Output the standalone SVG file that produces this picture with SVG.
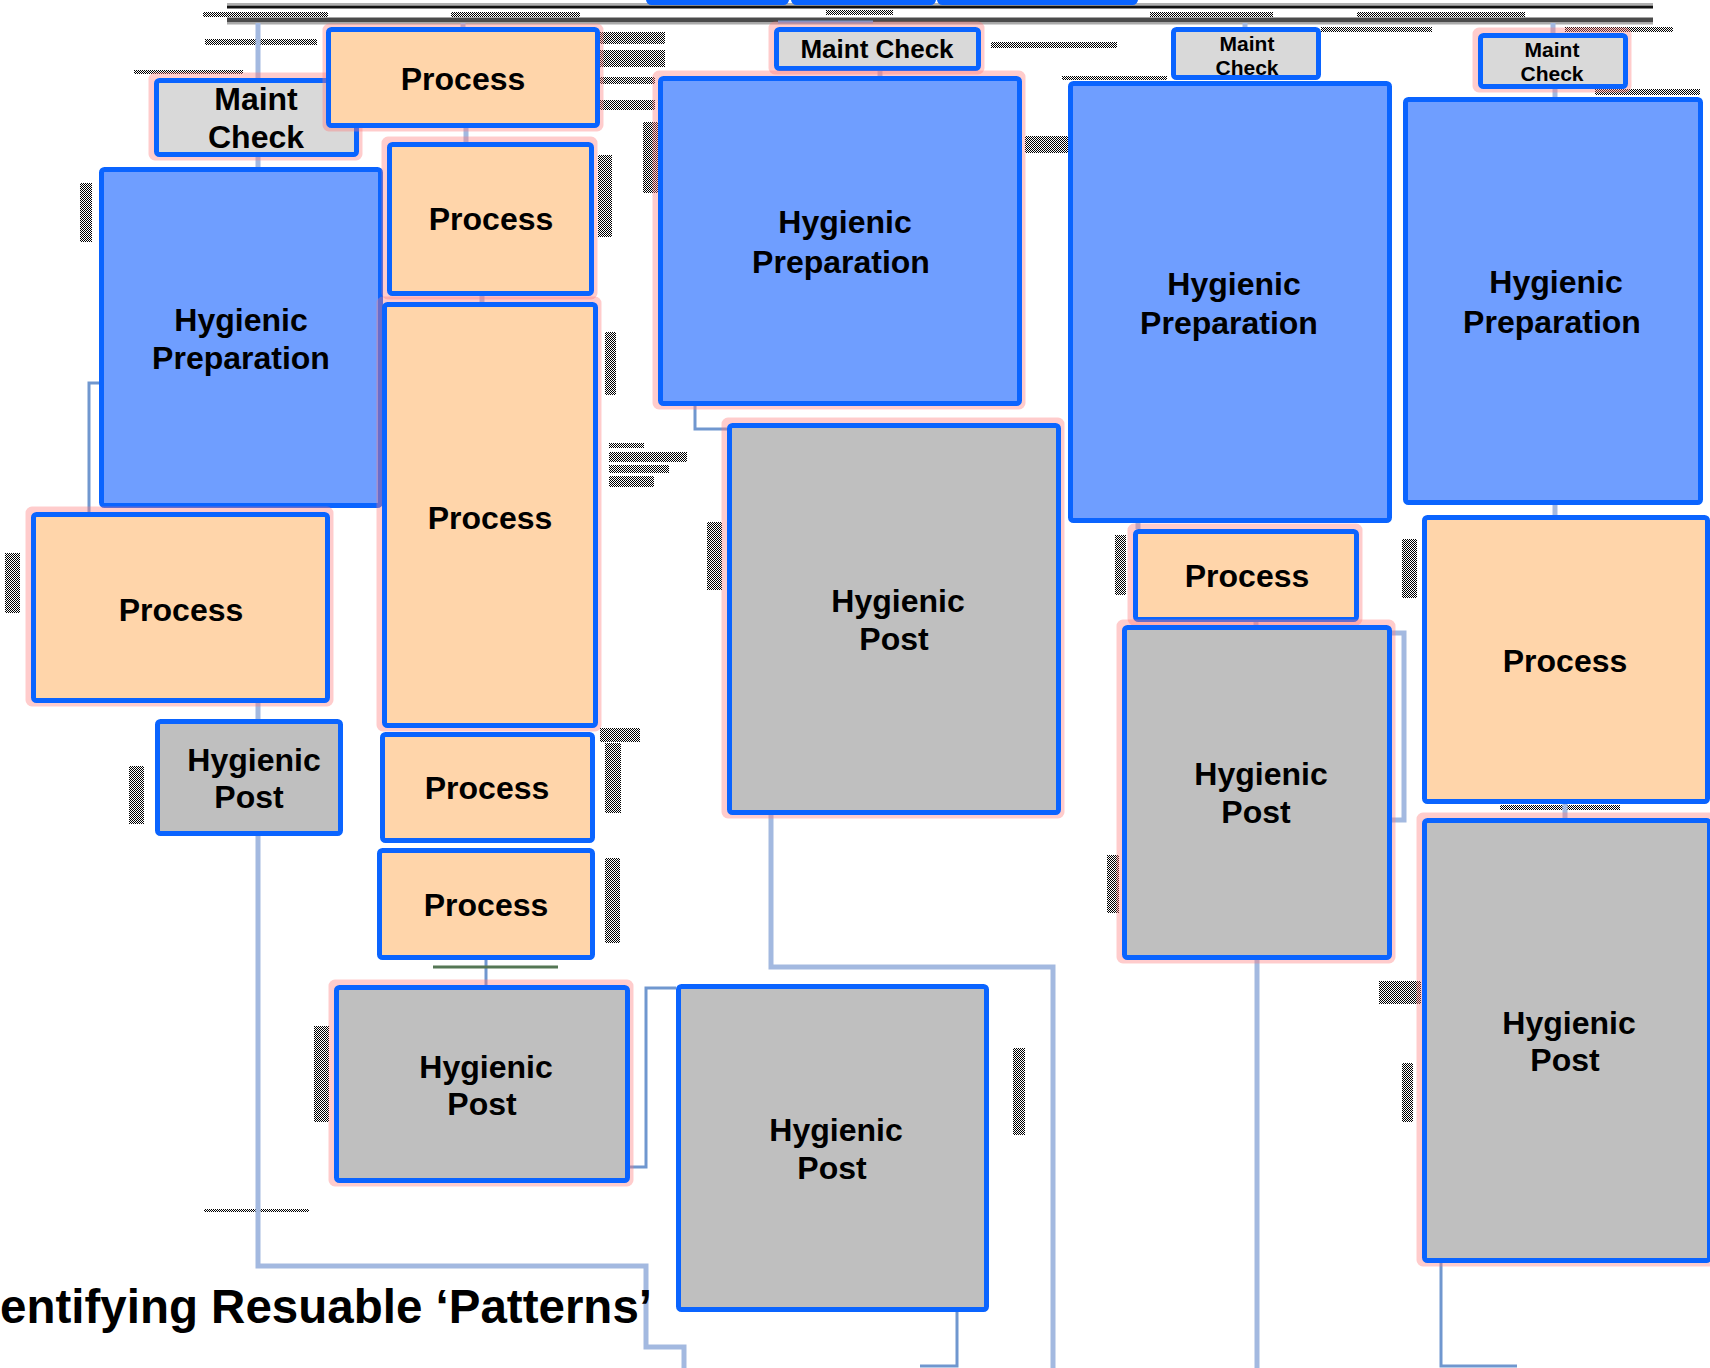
<svg xmlns="http://www.w3.org/2000/svg" width="1710" height="1368" viewBox="0 0 1710 1368">
<style>
.n rect.b{stroke:#0a64ff;stroke-width:5}
.n rect.g{fill:none;stroke:#ff7a7a;stroke-width:7;opacity:.38}
.hp{fill:#6f9eff}
.pr{fill:#ffd5aa}
.po{fill:#bfbfbf}
.mc{fill:#d9d9d9}
text{font-family:"Liberation Sans",Arial,sans-serif;font-weight:bold;fill:#000;text-anchor:middle}
.t32{font-size:32px}
.t26{font-size:26px}
.t21{font-size:21px}
.c{fill:none;stroke:#a3b9e0;stroke-width:5}
.d{fill:none;stroke:#7097cf;stroke-width:3}
.k{fill:url(#chk)}
</style>
<defs>
<pattern id="chk" width="2" height="2" patternUnits="userSpaceOnUse">
<rect width="2" height="2" fill="#fff"/>
<rect width="1" height="1" fill="#000"/>
<rect x="1" y="1" width="1" height="1" fill="#000"/>
</pattern>
</defs>
<rect width="1710" height="1368" fill="#fff"/>

<g id="topbar">
<line x1="227" y1="4" x2="1653" y2="4" stroke="#b0b0b0" stroke-width="2"/>
<line x1="227" y1="7" x2="1653" y2="7" stroke="#111" stroke-width="3"/>
<line x1="227" y1="20" x2="1653" y2="20" stroke="#4a4a4a" stroke-width="5"/>
<line x1="227" y1="23.5" x2="1653" y2="23.5" stroke="#aaa" stroke-width="2"/>
</g>

<g id="noise">
<rect class="k" x="203" y="12" width="125" height="5"/>
<rect class="k" x="451" y="12" width="129" height="5"/>
<rect class="k" x="826" y="10" width="67" height="5"/>
<rect class="k" x="1150" y="12" width="123" height="5"/>
<rect class="k" x="1357" y="12" width="168" height="5"/>
<rect class="k" x="1321" y="27" width="111" height="5"/>
<rect class="k" x="1350" y="27" width="82" height="5"/>
<rect class="k" x="1565" y="27" width="108" height="5"/>
<rect class="k" x="1595" y="89" width="105" height="6"/>
<rect class="k" x="991" y="42" width="126" height="6"/>
<rect class="k" x="1062" y="76" width="105" height="4"/>
<rect class="k" x="205" y="39" width="112" height="6"/>
<rect class="k" x="134" y="70" width="109" height="4"/>
<rect class="k" x="600" y="32" width="65" height="12"/>
<rect class="k" x="600" y="50" width="65" height="17"/>
<rect class="k" x="600" y="77" width="55" height="7"/>
<rect class="k" x="600" y="100" width="55" height="10"/>
<rect class="k" x="643" y="122" width="15" height="71"/>
<rect class="k" x="80" y="183" width="12" height="59"/>
<rect class="k" x="598" y="155" width="14" height="82"/>
<rect class="k" x="605" y="332" width="11" height="63"/>
<rect class="k" x="609" y="443" width="35" height="5"/>
<rect class="k" x="609" y="452" width="78" height="10"/>
<rect class="k" x="609" y="465" width="60" height="8"/>
<rect class="k" x="609" y="476" width="45" height="11"/>
<rect class="k" x="1025" y="136" width="43" height="17"/>
<rect class="k" x="707" y="522" width="15" height="68"/>
<rect class="k" x="1115" y="535" width="11" height="60"/>
<rect class="k" x="1402" y="539" width="15" height="59"/>
<rect class="k" x="600" y="728" width="40" height="14"/>
<rect class="k" x="605" y="743" width="16" height="70"/>
<rect class="k" x="5" y="553" width="15" height="60"/>
<rect class="k" x="129" y="766" width="15" height="58"/>
<rect class="k" x="605" y="858" width="15" height="85"/>
<rect class="k" x="314" y="1026" width="15" height="96"/>
<rect class="k" x="1107" y="855" width="12" height="58"/>
<rect class="k" x="1500" y="805" width="120" height="5"/>
<rect class="k" x="1379" y="981" width="42" height="23"/>
<rect class="k" x="1402" y="1063" width="11" height="59"/>
<rect class="k" x="1013" y="1048" width="12" height="87"/>
<rect class="k" x="204" y="1209" width="105" height="3"/>
</g>

<g id="connectors">
<polyline class="c" points="258,23 258,78"/>
<polyline class="c" points="258,157 258,167"/>
<polyline class="c" points="258,703 258,719"/>
<polyline class="c" points="258,836 258,1266 646,1266 646,1347 684,1347 684,1368"/>
<polyline class="d" points="99,383 89,383 89,512"/>
<polyline class="c" points="463,23 463,27"/>
<polyline class="c" points="466,128 466,142"/>
<polyline class="c" points="482,296 482,302"/>
<polyline class="d" points="486,960 486,985"/>
<line x1="433" y1="967" x2="558" y2="967" stroke="#557755" stroke-width="3"/>
<polyline class="d" points="630,1167 646,1167 646,988 676,988"/>
<polyline class="d" points="957,1312 957,1366 920,1366"/>
<polyline class="c" points="880,71 880,76"/>
<polyline class="d" points="778,22 873,22"/>
<polyline class="d" points="695,406 695,429 727,429"/>
<polyline class="c" points="771,815 771,967 1053,967 1053,1368"/>
<polyline class="c" points="1245,23 1245,27"/>
<polyline class="c" points="1138,523 1138,529"/>
<polyline class="c" points="1256,622 1256,625"/>
<polyline class="c" points="1392,633 1404,633 1404,820 1392,820"/>
<polyline class="c" points="1257,960 1257,1368"/>
<polyline class="c" points="1553,23 1553,33"/>
<polyline class="c" points="1555,89 1555,97"/>
<polyline class="c" points="1555,505 1555,515"/>
<polyline class="c" points="1565,804 1565,818"/>
<polyline class="d" points="1441,1263 1441,1366 1517,1366"/>
</g>

<g id="topstubs" class="n">
<rect class="b hp" x="648.5" y="-30" width="138" height="32.5" rx="3"/>
<rect class="b hp" x="793.5" y="-30" width="140" height="32.5" rx="3"/>
<rect class="b hp" x="939.5" y="-30" width="196" height="32.5" rx="3"/>
</g>

<g id="mc1" class="n"><rect class="g" x="152" y="76" width="207" height="81" rx="3"/><rect class="b mc" x="156.5" y="80.5" width="200" height="74" rx="3"/><text class="t32" x="256" y="110">Maint</text><text class="t32" x="256" y="148">Check</text></g>
<g id="proc_top" class="n"><rect class="g" x="326" y="27" width="274" height="101" rx="3"/><rect class="b pr" x="328.5" y="29.5" width="269" height="96" rx="3"/><text class="t32" x="463" y="90">Process</text></g>
<g id="hp1" class="n"><rect class="b hp" x="101.5" y="169.5" width="279" height="336" rx="3"/><text class="t32" x="241" y="331">Hygienic</text><text class="t32" x="241" y="369">Preparation</text></g>
<g id="proc2" class="n"><rect class="g" x="385" y="140" width="209" height="156" rx="3"/><rect class="b pr" x="389.5" y="144.5" width="202" height="149" rx="3"/><text class="t32" x="491" y="230">Process</text></g>
<g id="proc3" class="n"><rect class="g" x="380" y="300" width="218" height="428" rx="3"/><rect class="b pr" x="384.5" y="304.5" width="211" height="421" rx="3"/><text class="t32" x="490" y="529">Process</text></g>
<g id="proc4" class="n"><rect class="g" x="29" y="510" width="301" height="193" rx="3"/><rect class="b pr" x="33.5" y="514.5" width="294" height="186" rx="3"/><text class="t32" x="181" y="621">Process</text></g>
<g id="hpost1" class="n"><rect class="b po" x="157.5" y="721.5" width="183" height="112" rx="3"/><text class="t32" x="254" y="771">Hygienic</text><text class="t32" x="249" y="808">Post</text></g>
<g id="proc5" class="n"><rect class="b pr" x="382.5" y="734.5" width="210" height="106" rx="3"/><text class="t32" x="487" y="799">Process</text></g>
<g id="proc6" class="n"><rect class="b pr" x="379.5" y="850.5" width="213" height="107" rx="3"/><text class="t32" x="486" y="916">Process</text></g>
<g id="hpost2" class="n"><rect class="g" x="332" y="983" width="298" height="200" rx="3"/><rect class="b po" x="336.5" y="987.5" width="291" height="193" rx="3"/><text class="t32" x="486" y="1078">Hygienic</text><text class="t32" x="482" y="1115">Post</text></g>
<g id="hpost3" class="n"><rect class="b po" x="678.5" y="986.5" width="308" height="323" rx="3"/><text class="t32" x="836" y="1141">Hygienic</text><text class="t32" x="832" y="1179">Post</text></g>
<g id="mc2" class="n"><rect class="g" x="772" y="25" width="209" height="46" rx="3"/><rect class="b mc" x="776.5" y="29.5" width="202" height="39" rx="3"/><text class="t26" x="877" y="58">Maint Check</text></g>
<g id="hp2" class="n"><rect class="g" x="656" y="74" width="366" height="332" rx="3"/><rect class="b hp" x="660.5" y="78.5" width="359" height="325" rx="3"/><text class="t32" x="845" y="233">Hygienic</text><text class="t32" x="841" y="273">Preparation</text></g>
<g id="hpost4" class="n"><rect class="g" x="725" y="421" width="336" height="394" rx="3"/><rect class="b po" x="729.5" y="425.5" width="329" height="387" rx="3"/><text class="t32" x="898" y="612">Hygienic</text><text class="t32" x="894" y="650">Post</text></g>
<g id="mc3" class="n"><rect class="b mc" x="1173.5" y="29.5" width="145" height="48" rx="3"/><text class="t21" x="1247" y="51">Maint</text><text class="t21" x="1247" y="75">Check</text></g>
<g id="hp3" class="n"><rect class="b hp" x="1070.5" y="83.5" width="319" height="437" rx="3"/><text class="t32" x="1234" y="295">Hygienic</text><text class="t32" x="1229" y="334">Preparation</text></g>
<g id="proc7" class="n"><rect class="g" x="1131" y="527" width="228" height="95" rx="3"/><rect class="b pr" x="1135.5" y="531.5" width="221" height="88" rx="3"/><text class="t32" x="1247" y="587">Process</text></g>
<g id="hpost5" class="n"><rect class="g" x="1120" y="623" width="272" height="337" rx="3"/><rect class="b po" x="1124.5" y="627.5" width="265" height="330" rx="3"/><text class="t32" x="1261" y="785">Hygienic</text><text class="t32" x="1256" y="823">Post</text></g>
<g id="mc4" class="n"><rect class="g" x="1476" y="31" width="152" height="58" rx="3"/><rect class="b mc" x="1480.5" y="35.5" width="145" height="51" rx="3"/><text class="t21" x="1552" y="57">Maint</text><text class="t21" x="1552" y="81">Check</text></g>
<g id="hp4" class="n"><rect class="b hp" x="1405.5" y="99.5" width="295" height="403" rx="3"/><text class="t32" x="1556" y="293">Hygienic</text><text class="t32" x="1552" y="333">Preparation</text></g>
<g id="proc8" class="n"><rect class="b pr" x="1424.5" y="517.5" width="283" height="284" rx="3"/><text class="t32" x="1565" y="672">Process</text></g>
<g id="hpost6" class="n"><rect class="g" x="1420" y="816" width="292" height="447" rx="3"/><rect class="b po" x="1424.5" y="820.5" width="285" height="440" rx="3"/><text class="t32" x="1569" y="1034">Hygienic</text><text class="t32" x="1565" y="1071">Post</text></g>

<text id="title" x="0" y="1323" textLength="652" lengthAdjust="spacingAndGlyphs" style="font-size:48px;text-anchor:start">entifying Resuable ‘Patterns’</text>
</svg>
